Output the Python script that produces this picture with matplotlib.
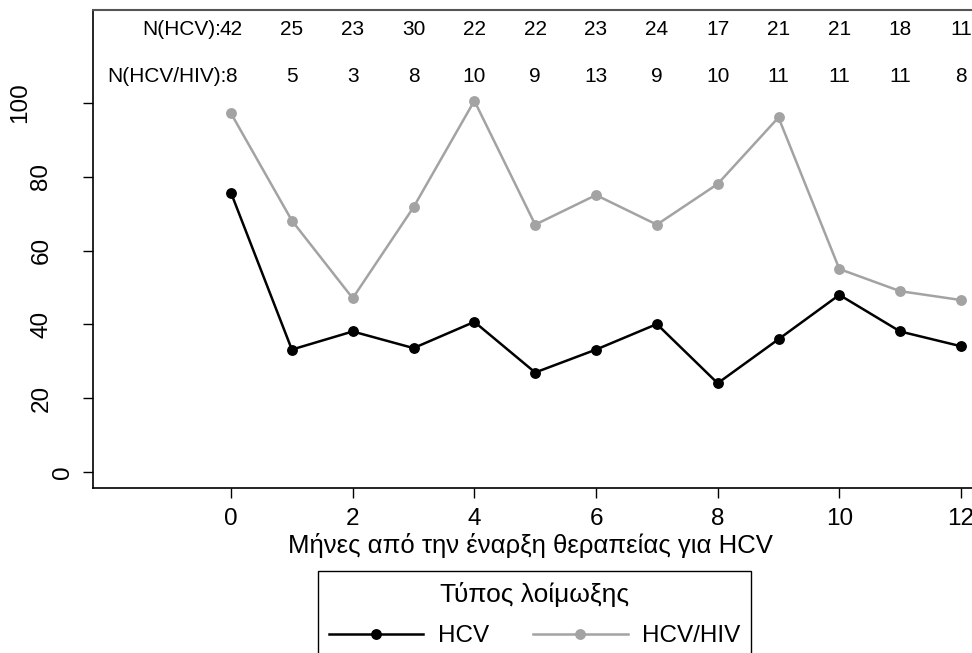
import matplotlib
matplotlib.use('Agg')
import matplotlib.pyplot as plt
from matplotlib.transforms import offset_copy

# ---- data ----
months = list(range(13))
hcv = [75.6, 33.2, 38.1, 33.6, 40.7, 27.0, 33.2, 40.1, 24.1, 36.0, 48.0, 38.1, 34.1]
hcv_hiv = [97.1, 68.1, 47.1, 71.7, 100.5, 67.0, 75.0, 67.0, 78.0, 96.0, 55.0, 49.0, 46.6]
n_hcv = [42, 25, 23, 30, 22, 22, 23, 24, 17, 21, 21, 18, 11]
n_hcv_hiv = [8, 5, 3, 8, 10, 9, 13, 9, 10, 11, 11, 11, 8]
xticks = [0, 2, 4, 6, 8, 10, 12]
yticks = [0, 20, 40, 60, 80, 100]
series_labels = ['HCV', 'HCV/HIV']
n_labels = ['N(HCV):', 'N(HCV/HIV):']
legend_title = 'Τύπος λοίμωξης'
xlabel = 'Μήνες από την έναρξη θεραπείας για HCV'

plt.rcParams['font.family'] = ['Liberation Sans', 'DejaVu Sans']

W, H = 972, 653
fig = plt.figure(figsize=(W / 100, H / 100), dpi=100)
left_px, right_px, top_px, bot_px = 93, 997.5, 9.5, 487.5
ax = fig.add_axes([left_px / W, 1 - bot_px / H, (right_px - left_px) / W, (bot_px - top_px) / H])

black = '#000000'
grey = '#A3A3A3'
l1, = ax.plot(months, hcv, color=black, lw=1.8, marker='o', ms=6.8, label=series_labels[0], zorder=3)
l2, = ax.plot(months, hcv_hiv, color=grey, lw=1.8, marker='o', ms=6.8, label=series_labels[1], zorder=2)

ax.set_xlim(-2.269, 12.6)
ax.set_ylim(-4.11, 125.2)

# N rows
nfs = 15
y_row1, y_row2 = 118.3, 105.7
for x, n1, n2 in zip(months, n_hcv, n_hcv_hiv):
    ax.text(x, y_row1, str(n1), ha='center', va='baseline', fontsize=nfs)
    ax.text(x, y_row2, str(n2), ha='center', va='baseline', fontsize=nfs)
ax.text(-0.17, y_row1, n_labels[0], ha='right', va='baseline', fontsize=nfs)
ax.text(-0.07, y_row2, n_labels[1], ha='right', va='baseline', fontsize=nfs)

# spines
ax.spines['right'].set_visible(False)
ax.spines['top'].set_color('#555555')
ax.spines['top'].set_linewidth(1.5)
ax.spines['left'].set_linewidth(1.2)
ax.spines['bottom'].set_linewidth(1.2)

ax.set_xticks(xticks)
ax.set_xticklabels([str(t) for t in xticks])
ax.tick_params(axis='x', length=7.5, width=1, labelsize=17.5, pad=7)
ax.set_yticks(yticks)
ax.tick_params(axis='y', length=7.5, width=1, labelleft=False)

ytrans = ax.get_yaxis_transform()
for t in yticks:
    s = str(t)
    dx = -(30.5 + 21 * (len(s) - 1))
    tr = offset_copy(ytrans, fig=fig, x=dx, y=0, units='dots')
    ax.text(0, t, s, rotation=90, ha='center', va='center', fontsize=17.5,
            transform=tr, rotation_mode='anchor')

fig.text(530 / W, 1 - 553 / H, xlabel, ha='center', va='baseline', fontsize=18.5)

leg = fig.legend([l1, l2], series_labels, ncol=2, loc='upper center',
                 bbox_to_anchor=(534.5 / W, 1 - 571 / H), fancybox=False,
                 edgecolor='black', framealpha=1, title=legend_title,
                 title_fontsize=19, fontsize=17.5, handlelength=3.9,
                 handletextpad=0.6, columnspacing=1.8, borderpad=0.45,
                 labelspacing=0.75, borderaxespad=0)
leg.get_frame().set_linewidth(1.0)

fig.savefig('out.png', dpi=100)
